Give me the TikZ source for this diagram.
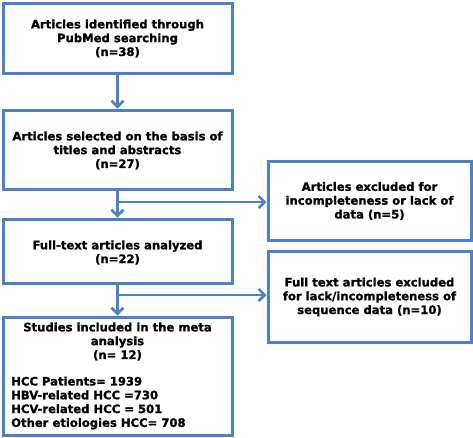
\documentclass[tikz,border=0pt]{standalone}
\usepackage{fontspec}
\setmainfont{DejaVu Sans}[BoldFeatures={FakeBold=1.2}]
\usetikzlibrary{arrows.meta}
\definecolor{boxblue}{RGB}{76,128,200}
\tikzset{
  x=1pt,y=-1pt,
  flowbox/.style={draw=boxblue, line width=3pt, fill=white, inner sep=0pt},
  lbl/.style={align=center, font=\fontsize{11.6}{13.8}\selectfont\bfseries, inner sep=0pt},
  lblleft/.style={align=left, font=\fontsize{11.6}{13.8}\selectfont\bfseries, inner sep=0pt},
  conn/.style={draw=boxblue, line width=2.8pt, -{Straight Barb[length=6pt,width=12pt,line width=2.6pt]}},
}
\begin{document}
\begin{tikzpicture}
\useasboundingbox[fill=white] (0,0) rectangle (473,437);
\node[flowbox, minimum width=229pt, minimum height=70pt] (b1) at (117.5,38) {};
\node[flowbox, minimum width=229pt, minimum height=79pt] (b2) at (117.5,149.5) {};
\node[flowbox, minimum width=229pt, minimum height=64pt] (b3) at (117.5,251) {};
\node[flowbox, minimum width=229pt, minimum height=118pt] (b4) at (117.5,376) {};
\node[flowbox, minimum width=203pt, minimum height=79pt] (b5) at (369.5,200.5) {};
\node[flowbox, minimum width=203pt, minimum height=91pt] (b6) at (369.5,296.5) {};

\node[lbl] (t1) at (117.5,38.5) {Articles identified through\\PubMed searching\\(n=38)};
\node[lbl] (t2) at (117.5,150.5) {Articles selected on the basis of\\titles and abstracts\\(n=27)};
\node[lbl] (t3) at (117.5,252.5) {Full-text articles analyzed\\(n=22)};
\node[lbl] (t4) at (117.5,341.5) {Studies included in the meta\\analysis\\(n= 12)};
\node[lblleft, anchor=west] (t4b) at (11,403) {HCC Patients= 1939\\HBV-related HCC =730\\HCV-related HCC = 501\\Other etiologies HCC= 708};
\node[lbl] (t5) at (369.5,201) {Articles excluded for\\incompleteness or lack of\\data (n=5)};
\node[lbl] (t6) at (369.5,297) {Full text articles excluded\\for lack/incompleteness of\\sequence data (n=10)};

\coordinate (j1) at (117.5,202);
\coordinate (j2) at (117.5,295);
\draw[conn] (b1.south) -- (b2.north);
\draw[conn] (b2.south) -- (b3.north);
\draw[conn] (b3.south) -- (b4.north);
\draw[conn] (j1) -- (b5.west |- j1);
\draw[conn] (j2) -- (b6.west |- j2);
\end{tikzpicture}
\end{document}
